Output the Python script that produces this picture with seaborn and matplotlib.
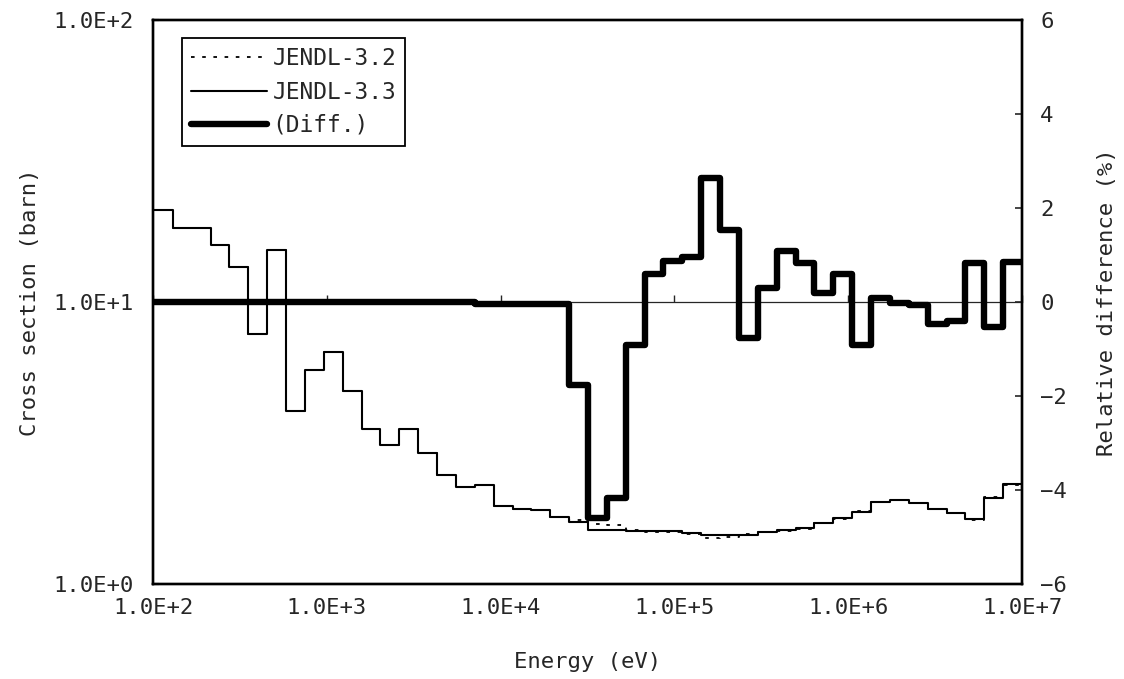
import numpy as np
import matplotlib
matplotlib.use("Agg")
import matplotlib.pyplot as plt
import matplotlib.ticker as mticker
import seaborn as sns

# Energy group boundaries (eV), ascending; 0.25-lethargy groups below 10 MeV
edges = [78.893, 101.30, 130.07, 167.02, 214.45, 275.36, 353.58, 454.00,
         582.95, 748.52, 961.12, 1234.1, 1584.6, 2034.7, 2612.6, 3354.6,
         4307.4, 5530.8, 7101.7, 9118.8, 11709., 15034., 19305., 24788.,
         31828., 40868., 52475., 67379., 86517., 1.1109e5, 1.4264e5,
         1.8316e5, 2.3518e5, 3.0197e5, 3.8774e5, 4.9787e5, 6.3928e5,
         8.2085e5, 1.0540e6, 1.3534e6, 1.7377e6, 2.2313e6, 2.8650e6,
         3.6788e6, 4.7237e6, 6.0653e6, 7.7880e6, 1.0e7]

# Group cross sections (barn), lowest group first
xs_jendl33 = [21.2, 21.2, 18.3, 18.3, 15.9, 13.3, 7.70, 15.3, 4.11, 5.74,
              6.65, 4.83, 3.55, 3.11, 3.55, 2.91, 2.44, 2.21, 2.24, 1.89,
              1.845, 1.83, 1.733, 1.659, 1.554, 1.554, 1.541, 1.541, 1.541,
              1.517, 1.490, 1.492, 1.492, 1.529, 1.554, 1.584, 1.646, 1.714,
              1.804, 1.958, 1.986, 1.933, 1.840, 1.781, 1.696, 2.023, 2.257]

xs_jendl32 = [21.2, 21.2, 18.3, 18.3, 15.9, 13.3, 7.70, 15.3, 4.11, 5.74,
              6.65, 4.83, 3.55, 3.11, 3.55, 2.91, 2.44, 2.21, 2.24, 1.89,
              1.846, 1.831, 1.734, 1.689, 1.629, 1.622, 1.555, 1.532, 1.528,
              1.503, 1.452, 1.470, 1.504, 1.524, 1.537, 1.571, 1.643, 1.704,
              1.821, 1.956, 1.986, 1.934, 1.849, 1.788, 1.682, 2.034, 2.238]

# Relative difference (%) between the two evaluations
rel_diff = [0.0, 0.0, 0.0, 0.0, 0.0, 0.0, 0.0, 0.0, 0.0, 0.0,
            0.0, 0.0, 0.0, 0.0, 0.0, 0.0, 0.0, 0.0, -0.04, -0.04,
            -0.04, -0.04, -0.04, -1.77, -4.60, -4.17, -0.91, 0.60, 0.87,
            0.96, 2.64, 1.53, -0.77, 0.30, 1.09, 0.83, 0.19, 0.60,
            -0.91, 0.09, -0.02, -0.06, -0.47, -0.40, 0.83, -0.53, 0.85]

energy_ticks = [1e2, 1e3, 1e4, 1e5, 1e6, 1e7]
energy_labels = ["1.0E+2", "1.0E+3", "1.0E+4", "1.0E+5", "1.0E+6", "1.0E+7"]
xs_ticks = [1, 10, 100]
xs_labels = ["1.0E+0", "1.0E+1", "1.0E+2"]
diff_ticks = [-6, -4, -2, 0, 2, 4, 6]

sns.set_style("white")
plt.rcParams["font.family"] = ["DejaVu Sans Mono", "DejaVu Sans"]
plt.rcParams["font.size"] = 16

fig = plt.figure(figsize=(11.24, 6.79), dpi=100)
ax = fig.add_axes([153 / 1124, 95 / 679, 869 / 1124, 564 / 679])
ax.set_xscale("log")
ax.set_yscale("log")


def stairs(values):
    # value of each group repeated at its upper edge for a steps-post line
    return np.append(values, values[-1])


sns.lineplot(x=edges, y=stairs(xs_jendl32), ax=ax, color="black", lw=1.3,
             linestyle=(0, (2.0, 4.2)), drawstyle="steps-post",
             estimator=None, sort=False, legend=False, label="JENDL-3.2")
sns.lineplot(x=edges, y=stairs(xs_jendl33), ax=ax, color="black", lw=1.5,
             drawstyle="steps-post", estimator=None, sort=False,
             legend=False, label="JENDL-3.3")

ax.set_xlim(1e2, 1e7)
ax.set_ylim(1, 100)
ax.set_xticks(energy_ticks, labels=energy_labels)
ax.set_yticks(xs_ticks, labels=xs_labels)
ax.xaxis.set_minor_locator(mticker.NullLocator())
ax.yaxis.set_minor_locator(mticker.NullLocator())
ax.tick_params(axis="x", length=0, pad=10, labelsize=16)
ax.tick_params(axis="y", direction="in", length=4, width=1.5, pad=14,
               labelsize=16)
ax.set_xlabel("Energy (eV)", fontsize=16)
ax.set_ylabel("Cross section (barn)", fontsize=16)
ax.xaxis.set_label_coords(0.5, -0.12)
ax.yaxis.set_label_coords(-0.13, 0.5)

# Horizontal reference axis through the middle with decade ticks
mid = ax.secondary_xaxis(0.5)
mid.set_xticks(energy_ticks)
mid.xaxis.set_minor_locator(mticker.NullLocator())
mid.tick_params(axis="x", direction="out", length=5, width=1,
                labeltop=False, labelbottom=False)
for s in mid.spines.values():
    s.set_linewidth(0.9)

ax2 = ax.twinx()
sns.lineplot(x=edges, y=stairs(rel_diff), ax=ax2, color="black", lw=4.6,
             drawstyle="steps-post", estimator=None, sort=False,
             legend=False, label="(Diff.)")
ax2.set_ylim(-6, 6)
ax2.set_yticks(diff_ticks)
ax2.tick_params(axis="y", direction="in", length=5, width=1.2, pad=13,
                labelsize=16)
ax2.set_ylabel("Relative difference (%)", fontsize=16)
ax2.yaxis.set_label_coords(1.086, 0.5)

for a in (ax, ax2):
    for s in a.spines.values():
        s.set_visible(True)
        s.set_color("black")
        s.set_linewidth(1.7)

h1, l1 = ax.get_legend_handles_labels()
h2, l2 = ax2.get_legend_handles_labels()
leg = ax2.legend(h1 + h2, l1 + l2, loc="upper left",
                 bbox_to_anchor=(0.0334, 0.968), borderaxespad=0,
                 frameon=True, fancybox=False, edgecolor="black",
                 framealpha=1, handlelength=3.3, handletextpad=0.25,
                 borderpad=0.4, labelspacing=0.45, fontsize=16.5)
leg.get_frame().set_linewidth(1.3)

fig.savefig("out.png", dpi=100, facecolor="white")
